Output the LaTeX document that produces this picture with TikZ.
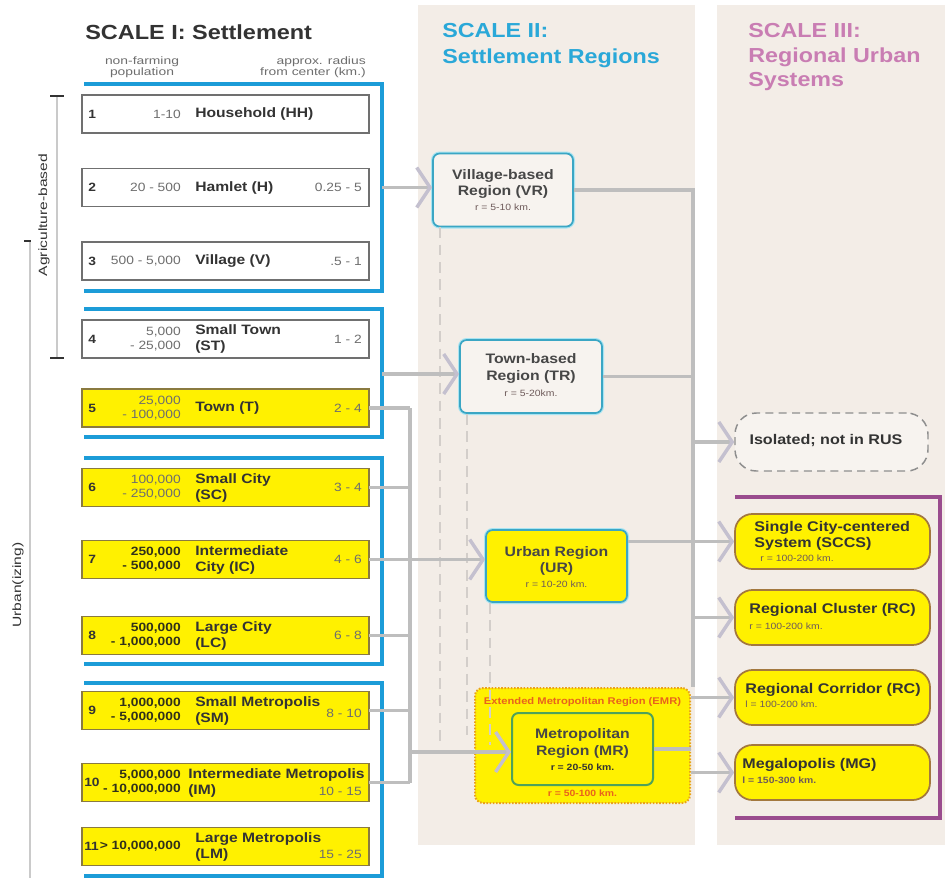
\documentclass[tikz,border=0pt]{standalone}
\usepackage{fontspec}
\setmainfont[FakeStretch=1.15]{Liberation Sans}
\newfontfamily\hdrfont[FakeStretch=1.3]{Liberation Sans}
\usetikzlibrary{arrows.meta,calc}
\definecolor{panelc}{HTML}{F3EDE7}
\definecolor{bluebr}{HTML}{1C9CD8}
\definecolor{boxgray}{HTML}{707070}
\definecolor{yboxbd}{HTML}{8A7A40}
\definecolor{ylw}{HTML}{FFF100}
\definecolor{namec}{HTML}{333333}
\definecolor{popc}{HTML}{6E6E6E}
\definecolor{connc}{HTML}{BEBEBE}
\definecolor{arrc}{HTML}{C4C0CF}
\definecolor{dashc}{HTML}{D3CECA}
\definecolor{tealbd}{HTML}{3BA6C4}
\definecolor{tealglow}{HTML}{A8E4F2}
\definecolor{regfill}{HTML}{F7F3EF}
\definecolor{greenbd}{HTML}{4FA25A}
\definecolor{emrbd}{HTML}{E9A21B}
\definecolor{emrtxt}{HTML}{E8631C}
\definecolor{brownbd}{HTML}{A3783E}
\definecolor{purpbr}{HTML}{9A4C8E}
\definecolor{t2c}{HTML}{2AA8D8}
\definecolor{t3c}{HTML}{C97DB3}
\definecolor{isobd}{HTML}{8E8E8E}
\definecolor{axisc}{HTML}{CACACA}
\definecolor{smallc}{HTML}{6E5A5A}

\newcommand{\settle}[9]{%
  \node[lbox,#3] (#1) at (225.5,#2) {};
  \node[lnum,anchor=west] (#1num) at (88,#2) {#4};
  \node[#5,anchor=east] (#1pop) at (181,#2) {#6};
  \node[lname,anchor=west] (#1nm) at (195,#2) {#7};
  \node[lrad,anchor=east] (#1rad) at (362,#9) {#8};
}

\begin{document}
\begin{tikzpicture}[x=0.75pt,y=-0.75pt,
  conn/.style={draw=connc, line width=2.3pt},
  arr/.style={conn, -{Straight Barb[length=10pt,width=30pt,line width=2.6pt,color=arrc]}},
  dsh/.style={draw=dashc, line width=1.1pt, dash pattern=on 8pt off 5pt},
  bluebracket/.style={draw=bluebr, line width=2.3pt},
  lbox/.style={draw=boxgray, line width=1.1pt, fill=white, minimum width=215.25pt, minimum height=28.5pt, inner sep=0, outer sep=0},
  ylbox/.style={fill=ylw, draw=yboxbd},
  lnum/.style={font=\bfseries\fontsize{9}{10}\selectfont, text=namec, inner sep=0},
  lpop/.style={font=\fontsize{9}{10.5}\selectfont, text=popc, align=right, inner sep=0},
  lpopb/.style={font=\bfseries\fontsize{9}{10.5}\selectfont, text=namec!85!yellow!60!black, align=right, inner sep=0},
  lname/.style={font=\bfseries\fontsize{10.2}{12}\selectfont, text=namec, align=left, inner sep=0},
  lrad/.style={font=\fontsize{9}{10.5}\selectfont, text=popc, inner sep=0},
  hdr/.style={font=\hdrfont\fontsize{8}{8.5}\selectfont, text=popc, inner sep=0},
  vtxt/.style={font=\hdrfont\fontsize{9}{10}\selectfont, text=namec, inner sep=0},
  ttl/.style={font=\bfseries\fontsize{15.2}{18}\selectfont, inner sep=0, anchor=base west},
  regbox/.style={rounded corners=5pt, draw=tealbd, line width=1.3pt, fill=regfill, preaction={draw=tealglow, line width=3pt}, inner sep=0},
  mname/.style={font=\bfseries\fontsize{10.3}{12.5}\selectfont, text=namec!90, align=center, inner sep=0},
  msmall/.style={font=\fontsize{6.8}{8}\selectfont, text=smallc, inner sep=0},
  rsys/.style={rounded corners=13pt, draw=brownbd, line width=1.3pt, fill=ylw, minimum width=146.25pt, minimum height=41.25pt, inner sep=0},
  rname/.style={font=\bfseries\fontsize{10.5}{12.5}\selectfont, text=namec, align=left, inner sep=0, anchor=west},
  rsmall/.style={font=\fontsize{6.8}{8}\selectfont, text=smallc, inner sep=0, anchor=west},
]
\useasboundingbox (0,0) rectangle (945,878);
\fill[white] (0,0) rectangle (945,878);
% panels
\fill[panelc] (418,5) rectangle (695,845);
\fill[panelc] (717,5) rectangle (945,845);

% titles
\node[ttl, font=\bfseries\fontsize{15.3}{18}\selectfont, text=namec] (t1) at (85,39) {SCALE I: Settlement};
\node[ttl, text=t2c] (t2a) at (442,37) {SCALE II:};
\node[ttl, text=t2c] (t2b) at (442,63) {Settlement Regions};
\node[ttl, text=t3c] (t3a) at (748,37) {SCALE III:};
\node[ttl, text=t3c] (t3b) at (748,62) {Regional Urban};
\node[ttl, text=t3c] (t3c) at (748,86) {Systems};
\node[hdr, align=center] (hpop) at (142,67) {non-farming\\population};
\node[hdr, align=right, anchor=east] (hrad) at (366,67) {approx. radius\\from center (km.)};

% left axis
\draw[draw=axisc, line width=1pt] (57,96) -- (57,358);
\draw[draw=namec, line width=1.6pt] (50,96) -- (64,96);
\draw[draw=namec, line width=1.6pt] (50,358) -- (64,358);
\draw[draw=axisc, line width=1pt] (30,241) -- (30,878);
\draw[draw=namec, line width=1.4pt] (24,241) -- (31,241);
\node[vtxt, rotate=90] (agri) at (44,215) {Agriculture-based};
\node[vtxt, rotate=90] (urb) at (18,585) {Urban(izing)};

% blue brackets
\draw[bluebracket] (84,84) -- (382,84) -- (382,291) -- (84,291);
\draw[bluebracket] (84,309) -- (382,309) -- (382,437) -- (84,437);
\draw[bluebracket] (84,458) -- (382,458) -- (382,664) -- (84,664);
\draw[bluebracket] (84,683) -- (382,683) -- (382,876) -- (84,876);

% settlement boxes
\settle{b1}{114}{}{1}{lpop}{1-10}{Household (HH)}{}{114}
\settle{b2}{187.5}{}{2}{lpop}{20 - 500}{Hamlet (H)}{0.25 - 5}{187.5}
\settle{b3}{261}{}{3}{lpop}{500 - 5,000}{Village (V)}{.5 - 1}{261}
\settle{b4}{339}{}{4}{lpop}{5,000\\- 25,000}{Small Town\\(ST)}{1 - 2}{339}
\settle{b5}{408}{ylbox}{5}{lpop}{25,000\\- 100,000}{Town (T)}{2 - 4}{408}
\settle{b6}{487.5}{ylbox}{6}{lpop}{100,000\\- 250,000}{Small City\\(SC)}{3 - 4}{487.5}
\settle{b7}{559.5}{ylbox}{7}{lpopb}{250,000\\- 500,000}{Intermediate\\City (IC)}{4 - 6}{559.5}
\settle{b8}{635.5}{ylbox}{8}{lpopb}{500,000\\- 1,000,000}{Large City\\(LC)}{6 - 8}{635.5}
\settle{b9}{710.5}{ylbox}{9}{lpopb}{1,000,000\\- 5,000,000}{Small Metropolis\\(SM)}{8 - 10}{713}
% box 10
\node[lbox,ylbox] (b10) at (225.5,782.5) {};
\node[lnum,anchor=west] (b10num) at (84,782.5) {10};
\node[lpopb,anchor=east] (b10pop) at (181,782.5) {5,000,000\\- 10,000,000};
\node[lname,anchor=west] (b10nm) at (188,782.5) {Intermediate Metropolis\\(IM)};
\node[lrad,anchor=east] (b10rad) at (362,791) {10 - 15};
% box 11
\node[lbox,ylbox] (b11) at (225.5,846.5) {};
\node[lnum,anchor=west] (b11num) at (84,846.5) {11};
\node[lpopb,anchor=east] (b11pop) at (181,846.5) {> 10,000,000};
\node[lname,anchor=west] (b11nm) at (195,846.5) {Large Metropolis\\(LM)};
\node[lrad,anchor=east] (b11rad) at (362,854) {15 - 25};

% settlement regions
\node[regbox, minimum width=105pt, minimum height=54.75pt] (vr) at (503,190) {};
\node[mname] (vrn) at ($(vr.center)+(0,-6)$) {Village-based\\Region (VR)};
\node[msmall] (vrs) at ($(vr.center)+(0,17)$) {r = 5-10 km.};

\node[regbox, minimum width=106.5pt, minimum height=54.75pt] (tr) at (531,376.5) {};
\node[mname] (trn) at ($(tr.center)+(0,-8)$) {Town-based\\Region (TR)};
\node[msmall] (trs) at ($(tr.center)+(0,17)$) {r = 5-20km.};

\node[regbox, fill=ylw, minimum width=105.75pt, minimum height=54pt] (ur) at (556.5,566) {};
\node[mname] (urn) at ($(ur.center)+(0,-5)$) {Urban Region\\(UR)};
\node[msmall] (urs) at ($(ur.center)+(0,18)$) {r = 10-20 km.};

\node[draw=emrbd, line width=1.5pt, dash pattern=on 1.2pt off 1.2pt, rounded corners=6pt, fill=ylw, minimum width=161.25pt, minimum height=86.25pt, inner sep=0] (emr) at (582.5,745.5) {};
\node[font=\bfseries\fontsize{7.3}{8}\selectfont, text=emrtxt, inner sep=0] (emrl) at (582.5,702) {Extended Metropolitan Region (EMR)};
\node[font=\bfseries\fontsize{6.8}{8}\selectfont, text=emrtxt, inner sep=0] (emrr) at (582.5,793) {r = 50-100 km.};

\node[rounded corners=5pt, draw=greenbd, line width=1.5pt, fill=ylw, minimum width=105.75pt, minimum height=54pt, inner sep=0] (mr) at (582.5,749) {};
\node[mname] (mrn) at ($(mr.center)+(0,-5.5)$) {Metropolitan\\Region (MR)};
\node[msmall, font=\bfseries\fontsize{6.8}{8}\selectfont, text=namec] (mrs) at ($(mr.center)+(0,18)$) {r = 20-50 km.};

% regional urban systems
\node[rounded corners=16pt, draw=isobd, line width=1.1pt, dash pattern=on 6pt off 4pt, fill=regfill, minimum width=144.75pt, minimum height=43.5pt, inner sep=0] (iso) at (831.5,442) {};
\node[font=\bfseries\fontsize{10.5}{12}\selectfont, text=namec, inner sep=0] (ison) at (826,441) {Isolated; not in RUS};

\draw[draw=purpbr, line width=2.3pt] (735,497) -- (940,497) -- (940,818) -- (735,818);

\node[rsys] (sccs) at (832.5,541.5) {};
\node[rname] (sccsn) at ($(sccs.west)+(20,-5.5)$) {Single City-centered\\System (SCCS)};
\node[rsmall] (sccss) at ($(sccs.west)+(26,16.5)$) {r = 100-200 km.};

\node[rsys] (rc) at (832.5,617.5) {};
\node[rname] (rcn) at ($(rc.west)+(15,-7.5)$) {Regional Cluster (RC)};
\node[rsmall] (rcs) at ($(rc.west)+(15,8.5)$) {r = 100-200 km.};

\node[rsys] (cor) at (832.5,697.5) {};
\node[rname] (corn) at ($(cor.west)+(11,-7.5)$) {Regional Corridor (RC)};
\node[rsmall] (cors) at ($(cor.west)+(11,6.5)$) {l = 100-200 km.};

\node[rsys] (mg) at (832.5,772.5) {};
\node[rname] (mgn) at ($(mg.west)+(8,-7.5)$) {Megalopolis (MG)};
\node[rsmall, font=\bfseries\fontsize{6.8}{8}\selectfont] (mgs) at ($(mg.west)+(8,7.5)$) {l = 150-300 km.};

% dashed guides
\draw[dsh] (vr.south -| 440,0) -- (440,745);
\draw[dsh] (tr.south -| 467,0) -- (467,735);
\draw[dsh] (ur.south -| 490,0) -- (490,745);

% connectors: settlements to regions
\coordinate (g1) at (382,187.5);
\coordinate (g2) at (382,374);
\draw[arr] (g1) -- (g1 -| vr.west);
\draw[arr] (g2) -- (g2 -| tr.west);
\coordinate (busT) at (410,408);
\coordinate (busB) at (410,782.5);
\foreach \b in {b5,b6,b7,b8,b9,b10} \draw[conn] (\b.east) -- (\b.east -| busT);
\draw[conn] (busT) -- (busB);
\draw[arr] (busT |- b7.east) -- (ur.west |- b7.east);
\coordinate (mrin) at (410,752);
\draw[arr] (mrin) -- (mrin -| mr.west);

% connectors: regions to systems
\coordinate (rbx) at (693,0);
\draw[conn] (vr.east) -- (vr.east -| rbx) -- (rbx |- emr.north);
\draw[conn] (tr.east) -- (tr.east -| rbx);
\draw[arr] (rbx |- iso.west) -- (iso.west);
\draw[arr] (rbx |- rc.west) -- (rc.west);
\draw[arr] (ur.east |- sccs.west) -- (sccs.west);
\draw[conn] (mr.east) -- (mr.east -| emr.east);
\draw[arr] (emr.east |- cor.west) -- (cor.west);
\draw[arr] (emr.east |- mg.west) -- (mg.west);
\end{tikzpicture}
\end{document}
